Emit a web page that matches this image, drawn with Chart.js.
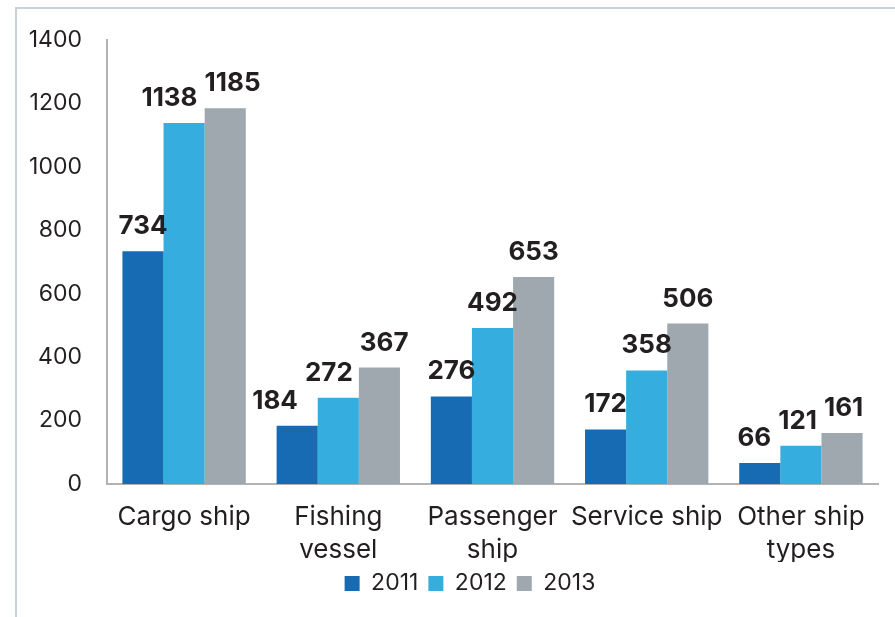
<!DOCTYPE html>
<html>
<head>
<meta charset="utf-8">
<script src="https://cdn.jsdelivr.net/npm/chart.js@4.4.0/dist/chart.umd.min.js"></script>
<style>
  html, body { margin: 0; padding: 0; background: #ffffff; }
  #wrap { position: relative; width: 895px; height: 617px; overflow: hidden; }
  #frame { position: absolute; left: 15px; top: 7px; width: 2000px; height: 2000px;
           border-left: 2px solid #c9d1d7; border-top: 2px solid #c9d1d7; box-sizing: border-box; }
  canvas { position: absolute; left: 0; top: 0; }
</style>
</head>
<body>
<div id="wrap">
  <div id="frame"></div>
  <canvas id="chart" width="895" height="617"></canvas>
</div>
<script>
// Ship categories (multi-line labels as arrays)
const categories = [
  "Cargo ship",
  ["Fishing", "vessel"],
  ["Passenger", "ship"],
  "Service ship",
  ["Other ship", "types"]
];
const years = ["2011", "2012", "2013"];
const values2011 = [734, 184, 276, 172, 66];
const values2012 = [1138, 272, 492, 358, 121];
const values2013 = [1185, 367, 653, 506, 161];
const yTicks = [0, 200, 400, 600, 800, 1000, 1200, 1400];

const colors = ["#176bb3", "#36addf", "#9ea8ae"];
const textColor = "#231f20";
const fontFamily = "Inter, 'DejaVu Sans', sans-serif";

// Value labels above each bar; labels in one group that would collide are pushed apart
const valueLabels = {
  id: "valueLabels",
  afterDatasetsDraw(chart) {
    const ctx = chart.ctx;
    ctx.save();
    ctx.font = "bold 26px " + fontFamily;
    ctx.fillStyle = textColor;
    ctx.textAlign = "center";
    ctx.textBaseline = "alphabetic";
    const nCat = chart.data.labels.length;
    const nSets = chart.data.datasets.length;
    const textH = 20, gap = 7;
    for (let i = 0; i < nCat; i++) {
      const items = [];
      for (let d = 0; d < nSets; d++) {
        const bar = chart.getDatasetMeta(d).data[i];
        const txt = String(chart.data.datasets[d].data[i]);
        const w = ctx.measureText(txt).width;
        items.push({ txt, x: bar.x, y: bar.y - 17, w });
      }
      for (let d = nSets - 2; d >= 0; d--) {
        const a = items[d], b = items[d + 1];
        const vertOverlap = Math.abs(a.y - b.y) < textH + 12;
        const need = (a.x + a.w / 2 + gap) - (b.x - b.w / 2);
        if (vertOverlap && need > 0) {
          if (d === nSets - 2) { b.x += need / 3; a.x -= need * 2 / 3; }
          else { a.x -= need; }
        }
      }
      items.forEach(it => ctx.fillText(it.txt, it.x, it.y));
    }
    ctx.restore();
  }
};

// Centre the legend row a little to the right of the canvas midline
const legendOffset = {
  id: "legendOffset",
  afterLayout(chart) {
    const lg = chart.legend;
    if (lg) { lg.left += 21; lg.right += 21; }
  }
};

new Chart(document.getElementById("chart"), {
  type: "bar",
  data: {
    labels: categories,
    datasets: years.map((y, k) => ({
      label: y,
      data: [values2011, values2012, values2013][k],
      backgroundColor: colors[k],
      borderWidth: 0,
      categoryPercentage: 0.8,
      barPercentage: 1.0
    }))
  },
  options: {
    responsive: false,
    animation: false,
    devicePixelRatio: 1,
    layout: { padding: { left: 20, right: 17, top: 40, bottom: 12 } },
    plugins: {
      tooltip: { enabled: false },
      legend: {
        position: "bottom",
        labels: {
          boxWidth: 15,
          boxHeight: 15,
          padding: 10,
          color: textColor,
          font: { family: fontFamily, size: 23 }
        }
      }
    },
    scales: {
      x: {
        grid: { display: false, drawTicks: false },
        border: { display: true, color: "#b3b3b3", width: 2 },
        ticks: {
          color: textColor,
          padding: 17,
          maxRotation: 0,
          autoSkip: false,
          font: { family: fontFamily, size: 26, lineHeight: 1.25 }
        },
        afterFit(s) { s.height = 78; }
      },
      y: {
        min: 0,
        max: 1400,
        afterBuildTicks(s) { s.ticks = yTicks.map(v => ({ value: v })); },
        grid: { display: false, drawTicks: false },
        border: { display: true, color: "#b3b3b3", width: 2 },
        ticks: {
          color: textColor,
          padding: 25,
          font: { family: fontFamily, size: 23 },
          callback: (v) => String(v)
        },
        afterFit(s) { s.width = 87; }
      }
    }
  },
  plugins: [valueLabels, legendOffset]
});
</script>
</body>
</html>
